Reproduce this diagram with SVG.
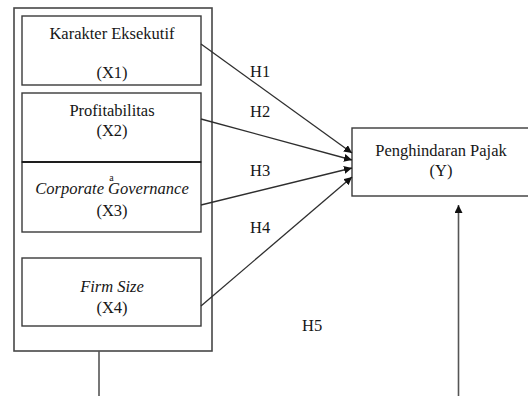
<svg xmlns="http://www.w3.org/2000/svg" width="528" height="396" viewBox="0 0 528 396">
  <style>
    .box { fill: #ffffff; stroke: #3a3a3a; stroke-width: 1.4; }
    .frame { fill: none; stroke: #474747; stroke-width: 1.6; }
    .txt { font-size: 16.5px; text-anchor: middle; }
    .it { font-style: italic; }
    .lbl { font-size: 16.5px; }
    .sup { font-size: 10px; text-anchor: middle; }
    .conn { fill: none; stroke: #2e2e2e; stroke-width: 1.3; }
    .stem { stroke: #555555; stroke-width: 1.6; }
  </style>
  <defs>
    <marker id="arrow" viewBox="0 0 10 10" refX="10" refY="5" markerWidth="8" markerHeight="8" markerUnits="userSpaceOnUse" orient="auto">
      <path d="M0,0 L10,5 L0,10 z" fill="#111111"/>
    </marker>
  </defs>
  <rect width="528" height="396" fill="#ffffff"/>

  <!-- outer frame enclosing the independent variables -->
  <rect id="frame" class="frame" x="14" y="8" width="198" height="343"/>

  <g font-family="'Liberation Serif', 'DejaVu Serif', serif" fill="#161616">
    <g id="x1">
      <rect class="box" x="22" y="16" width="179" height="69"/>
      <text class="txt" x="112" y="39">Karakter Eksekutif</text>
      <text class="txt" x="112" y="78">(X1)</text>
    </g>

    <g id="x2">
      <rect class="box" x="22" y="93" width="179" height="69"/>
      <text class="txt" x="112" y="116">Profitabilitas</text>
      <text class="txt" x="112" y="136">(X2)</text>
    </g>

    <g id="x3">
      <rect class="box" x="22" y="162" width="179" height="70"/>
      <line x1="22" y1="162" x2="201" y2="162" stroke="#1e1e1e" stroke-width="2.2"/>
      <text class="txt it" x="112" y="194">Corporate Governance</text>
      <text class="sup" x="111.5" y="181">a</text>
      <text class="txt" x="112" y="215.5">(X3)</text>
    </g>

    <g id="x4">
      <rect class="box" x="22" y="258" width="179" height="68"/>
      <text class="txt it" x="112" y="292">Firm Size</text>
      <text class="txt" x="112" y="312.5">(X4)</text>
    </g>

    <g id="y">
      <rect class="box" x="352" y="128" width="190" height="68"/>
      <text class="txt" x="441" y="156">Penghindaran Pajak</text>
      <text class="txt" x="441" y="176">(Y)</text>
    </g>

    <g id="connectors">
      <line class="conn" x1="201" y1="44" x2="352" y2="153" marker-end="url(#arrow)"/>
      <line class="conn" x1="201" y1="119" x2="352" y2="160" marker-end="url(#arrow)"/>
      <line class="conn" x1="201" y1="205" x2="352" y2="168" marker-end="url(#arrow)"/>
      <line class="conn" x1="201" y1="306" x2="352" y2="177" marker-end="url(#arrow)"/>
      <line class="stem" x1="99" y1="351" x2="99" y2="396"/>
      <line class="stem" x1="458.5" y1="396" x2="458.5" y2="205" marker-end="url(#arrow)"/>
    </g>

    <g id="labels">
      <text class="lbl" x="250" y="77">H1</text>
      <text class="lbl" x="250" y="117">H2</text>
      <text class="lbl" x="250" y="176">H3</text>
      <text class="lbl" x="250" y="233">H4</text>
      <text class="lbl" x="302" y="331">H5</text>
    </g>
  </g>
</svg>
